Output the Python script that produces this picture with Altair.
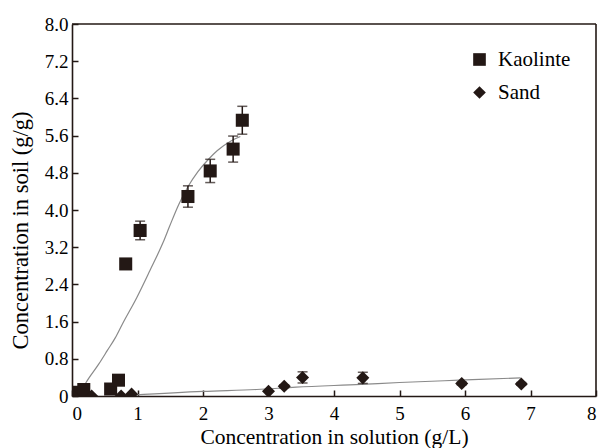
import altair as alt
import pandas as pd

# ---- data ----
kao_x = [0.02, 0.18, 0.59, 0.71, 0.82, 1.04, 1.77, 2.11, 2.46, 2.60]
kao_y = [0.08, 0.14, 0.15, 0.34, 2.84, 3.56, 4.29, 4.84, 5.31, 5.93]
kao_err = [0.0, 0.0, 0.0, 0.0, 0.08, 0.20, 0.23, 0.25, 0.28, 0.30]

sand_x = [0.02, 0.30, 0.75, 0.91, 3.00, 3.24, 3.52, 4.44, 5.95, 6.86]
sand_y = [0.00, 0.00, 0.00, 0.04, 0.10, 0.21, 0.40, 0.39, 0.27, 0.26]
sand_err = [0.0, 0.0, 0.0, 0.0, 0.0, 0.03, 0.12, 0.12, 0.03, 0.03]

kao_fit_x = [0.12, 0.21, 0.41, 0.54, 0.66, 0.77, 0.99, 1.19, 1.39, 1.49, 1.63,
             1.77, 1.92, 2.07, 2.22, 2.42, 2.57]
kao_fit_y = [0.05, 0.28, 0.69, 0.98, 1.25, 1.55, 2.12, 2.70, 3.30, 3.65, 4.12,
             4.50, 4.82, 5.07, 5.28, 5.48, 5.58]

sand_fit_x = [0.92, 2.00, 2.82, 3.42, 4.41, 5.00, 5.91, 6.85]
sand_fit_y = [0.02, 0.10, 0.14, 0.19, 0.25, 0.29, 0.34, 0.39]

series_names = ["Kaolinte", "Sand"]
x_ticks = [0, 1, 2, 3, 4, 5, 6, 7, 8]
y_ticks = [0, 0.8, 1.6, 2.4, 3.2, 4.0, 4.8, 5.6, 6.4, 7.2, 8.0]

# ---- tables ----
pts = pd.DataFrame({
    "x": kao_x + sand_x,
    "y": kao_y + sand_y,
    "err": kao_err + sand_err,
    "series": [series_names[0]] * len(kao_x) + [series_names[1]] * len(sand_x),
})
pts["lo"] = pts["y"] - pts["err"]
pts["hi"] = pts["y"] + pts["err"]
errs = pts[pts["err"] > 0]

fit = pd.DataFrame({
    "x": kao_fit_x + sand_fit_x,
    "y": kao_fit_y + sand_fit_y,
    "series": [series_names[0]] * len(kao_fit_x) + [series_names[1]] * len(sand_fit_x),
})

W, H = 524, 372
FONT = "'Liberation Serif', 'Times New Roman', Times, serif"
INK = "#231815"

xs = alt.Scale(domain=[0, 8], nice=False)
ys = alt.Scale(domain=[0, 8], nice=False)

# fit lines, carrying the inward tick marks (ticks-only axes)
lines = alt.Chart(fit).mark_line(color="#8a8a8a", strokeWidth=1.2, interpolate="monotone").encode(
    x=alt.X("x:Q", scale=xs, axis=alt.Axis(orient="top", offset=-H, values=x_ticks, labels=False,
                                          domain=False, ticks=True, tickSize=6, tickWidth=1.5,
                                          tickColor=INK, title=None, grid=False)),
    y=alt.Y("y:Q", scale=ys, axis=alt.Axis(orient="right", offset=-W, values=y_ticks, labels=False,
                                          domain=False, ticks=True, tickSize=6, tickWidth=1.5,
                                          tickColor=INK, title=None, grid=False)),
    detail="series:N",
)

bars = alt.Chart(errs).mark_errorbar(ticks=True, size=10, thickness=1.5, color=INK).encode(
    x=alt.X("x:Q", scale=xs, axis=None),
    y=alt.Y("lo:Q", scale=ys, axis=None),
    y2="hi:Q",
)

points = alt.Chart(pts).mark_point(filled=True, opacity=1, size=170, color=INK, clip=True).encode(
    x=alt.X("x:Q", scale=xs, axis=alt.Axis(
        orient="bottom", values=x_ticks, format="d", ticks=False, tickSize=0,
        domain=True, domainColor=INK, domainWidth=1.6,
        labelPadding=8, labelFontSize=19, labelFont=FONT, labelColor="black",
        title="Concentration in solution (g/L)", titleFont=FONT, titleFontSize=21.5,
        titleFontWeight="normal", titleColor="black", titleY=47, titleBaseline="alphabetic", grid=False)),
    y=alt.Y("y:Q", scale=ys, axis=alt.Axis(
        orient="left", values=y_ticks, ticks=False, tickSize=0,
        domain=True, domainColor=INK, domainWidth=1.6,
        labelExpr="datum.value == 0 ? '0' : format(datum.value, '.1f')",
        labelPadding=4, labelFontSize=19, labelFont=FONT, labelColor="black",
        title="Concentration in soil (g/g)", titleFont=FONT, titleFontSize=22.5,
        titleFontWeight="normal", titleColor="black", titleX=-40, titleY=206, grid=False)),
    shape=alt.Shape("series:N", scale=alt.Scale(domain=series_names, range=["square", "diamond"]),
                    legend=alt.Legend(title=None, orient="none", legendX=397, legendY=25,
                                      labelFont=FONT, labelFontSize=21, labelColor="black",
                                      symbolSize=160, symbolFillColor=INK, symbolStrokeWidth=0,
                                      labelOffset=8, rowPadding=11, padding=0)),
)

# top and right frame lines of the plot box
frame_src = pd.DataFrame({"k": [0]})
right_edge = alt.Chart(frame_src).mark_rule(color=INK, strokeWidth=1.6).encode(
    x=alt.value(W), y=alt.value(0), y2=alt.value(H))
top_edge = alt.Chart(frame_src).mark_rule(color=INK, strokeWidth=1.6).encode(
    x=alt.value(0), x2=alt.value(W), y=alt.value(0))

chart = alt.layer(lines, bars, points, right_edge, top_edge).resolve_axis(
    x="independent", y="independent").properties(
    width=W, height=H,
    autosize=alt.AutoSizeParams(type="none"),
    padding={"left": 64, "top": 16, "right": 2, "bottom": 52},
).configure_view(stroke=None)

chart.save("out.html", embed_options={"renderer": "svg", "actions": False})
